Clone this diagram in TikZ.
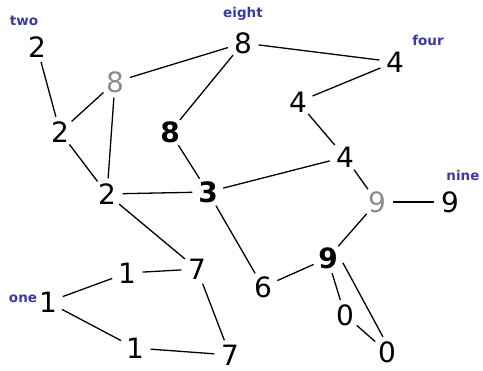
\documentclass[tikz,border=0pt]{standalone}
\usepackage{fontspec}
\setmainfont{DejaVu Sans}
\begin{document}
\begin{tikzpicture}[x=1pt,y=-1pt,
  dig/.style={shape=circle,minimum size=31pt,inner sep=0pt,font=\fontsize{28}{30}\selectfont},
  bolddig/.style={dig,font=\fontsize{28}{30}\selectfont\bfseries},
  graydig/.style={dig,text=black!45},
  lbl/.style={font=\fontsize{13.5}{15}\selectfont\bfseries,text=labelblue},
  edge/.style={line width=1.3pt,black}]
\definecolor{labelblue}{RGB}{58,58,160}
\useasboundingbox (0,0) rectangle (483,371);
% digit nodes
\node[dig] (two1) at (37,47) {2};
\node[dig] (eightA) at (243,43) {8};
\node[graydig] (eightB) at (115,82) {8};
\node[dig] (fourA) at (395,62) {4};
\node[dig] (fourB) at (298,102) {4};
\node[dig] (twoB) at (60,132) {2};
\node[bolddig] (eightC) at (170,132) {8};
\node[dig] (fourC) at (345,157) {4};
\node[dig] (twoC) at (107,194) {2};
\node[bolddig] (three) at (208,192) {3};
\node[graydig] (nineA) at (377,202) {9};
\node[dig] (nineB) at (450,202) {9};
\node[dig] (sevenA) at (197,269) {7};
\node[dig] (oneA) at (127,273) {1};
\node[dig] (oneB) at (48,302) {1};
\node[bolddig] (nineC) at (328,258) {9};
\node[dig] (six) at (263,287) {6};
\node[dig] (zeroA) at (345,315) {0};
\node[dig] (zeroB) at (387,352) {0};
\node[dig] (oneC) at (135,348) {1};
\node[dig] (sevenB) at (230,355) {7};
% labels
\node[lbl] (ltwo) at (24,21) {two};
\node[lbl] (leight) at (243,14) {eight};
\node[lbl] (lfour) at (428,40) {four};
\node[lbl] (lnine) at (463,175) {nine};
\node[lbl] (lone) at (23,299) {one};
% edges
\draw[edge] (two1) -- (twoB);
\draw[edge] (twoB) -- (eightB);
\draw[edge] (eightB) -- (eightA);
\draw[edge] (eightB) -- (twoC);
\draw[edge] (eightA) -- (eightC);
\draw[edge] (eightA) -- (fourA);
\draw[edge] (fourA) -- (fourB);
\draw[edge] (fourB) -- (fourC);
\draw[edge] (fourC) -- (three);
\draw[edge] (fourC) -- (nineA);
\draw[edge] (twoB) -- (twoC);
\draw[edge] (twoC) -- (three);
\draw[edge] (eightC) -- (three);
\draw[edge] (three) -- (six);
\draw[edge] (twoC) -- (sevenA);
\draw[edge] (sevenA) -- (oneA);
\draw[edge] (oneA) -- (oneB);
\draw[edge] (oneB) -- (oneC);
\draw[edge] (oneC) -- (sevenB);
\draw[edge] (sevenA) -- (sevenB);
\draw[edge] (nineA) -- (nineB);
\draw[edge] (nineA) -- (nineC);
\draw[edge] (nineC) -- (six);
\draw[edge] (nineC.-75) -- (zeroA);
\draw[edge] (nineC.-18) -- (zeroB.105);
\draw[edge] (zeroA) -- (zeroB);
\end{tikzpicture}
\end{document}
